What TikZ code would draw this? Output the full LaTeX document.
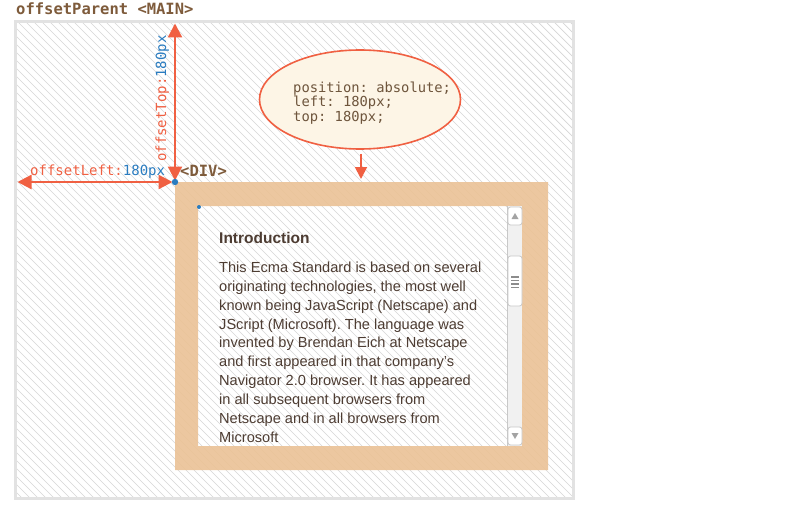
\documentclass[tikz,border=0pt]{standalone}
\usepackage{fontspec}
\setmainfont{Liberation Sans}
\setmonofont{DejaVu Sans Mono}
\usetikzlibrary{shapes.geometric,arrows.meta}
\definecolor{arrowred}{RGB}{240,96,66}
\definecolor{labelblue}{RGB}{42,124,192}
\definecolor{titlebrown}{RGB}{126,91,59}
\definecolor{notetext}{RGB}{110,85,60}
\definecolor{divorange}{RGB}{235,194,150}
\definecolor{hatchgray}{RGB}{214,214,214}
\definecolor{bordergray}{RGB}{226,226,226}
\definecolor{textbrown}{RGB}{77,60,50}
\definecolor{notefill}{RGB}{253,245,230}
\definecolor{scrolltrack}{RGB}{241,241,241}
\definecolor{scrollline}{RGB}{200,200,200}
\definecolor{scrollgrip}{RGB}{140,140,140}
\tikzset{
  monolabel/.style={font=\ttfamily\fontsize{14}{16}\selectfont, inner sep=0pt},
  boldlabel/.style={font=\ttfamily\bfseries\fontsize{15.5}{18}\selectfont, text=titlebrown, inner sep=0pt},
  measurearrow/.style={draw=arrowred, line width=2.3pt, {Triangle[length=14pt,width=14pt]}-{Triangle[length=14pt,width=14pt]}},
  pointarrow/.style={draw=arrowred, line width=1.8pt, -{Triangle[length=12pt,width=12pt]}},
  scrollbutton/.style={draw=scrollline, fill=white, line width=0.8pt, rounded corners=2.5pt},
}
\begin{document}
\frenchspacing
\begin{tikzpicture}[x=1pt,y=-1pt]
\useasboundingbox (0,0) rectangle (793,511);
\fill[white] (0,0) rectangle (793,511);
% hatched background of MAIN
\begin{scope}
  \clip (15.5,21.5) rectangle (573.5,498.5);
  \foreach \i in {-490,-482,...,580} \draw[hatchgray, line width=0.7pt] (\i,18) -- ++(484,484);
\end{scope}
\draw[bordergray, line width=3pt] (15.5,21.5) rectangle (573.5,498.5);
% DIV border (semi-transparent)
\fill[divorange, opacity=0.9, even odd rule] (175,182) rectangle (548,470) (198,206) rectangle (522,446);
% scrollbar
\fill[scrolltrack] (507,206) rectangle (522,446);
\draw[scrollline, line width=0.6pt] (507.3,206) -- (507.3,446);
\draw[scrollbutton] (508,207) rectangle (522,225);
\fill[scrollgrip!80] (511.5,219) -- (518.5,219) -- (515,213) -- cycle;
\draw[scrollbutton] (508,256) rectangle (522,306);
\foreach \yy in {277,280.5,284,287.5} \draw[scrollgrip, line width=1.3pt] (511,\yy) -- (519,\yy);
\draw[scrollbutton] (508,427) rectangle (522,445);
\fill[scrollgrip!80] (511.5,433) -- (518.5,433) -- (515,439) -- cycle;
% note ellipse
\node[ellipse, draw=arrowred, line width=1.6pt, fill=notefill, minimum width=201pt, minimum height=99pt, inner sep=0pt] (note) at (360,99.5) {};
\node[font=\ttfamily\fontsize{13.8}{14.6}\selectfont, text=notetext, align=left, anchor=west, inner sep=0pt] (notetxt) at (293,103) {position: absolute;\\left: 180px;\\top: 180px;};
% coordinates
\coordinate (divcorner) at (175,182);
\coordinate (maintop) at (175,23.5);
\coordinate (mainleft) at (17.5,182);
\coordinate (divtopmid) at (361,179);
% arrows
\draw[measurearrow, shorten <=1.5pt] (divcorner) -- (maintop);
\draw[measurearrow, shorten <=2.5pt] (divcorner) -- (mainleft);
\draw[pointarrow] ([shift={(1,4)}]note.south) -- (divtopmid);
% dots
\fill[labelblue] (divcorner) circle (3.2pt);
\fill[labelblue] (199,207) circle (2pt);
% labels
\node[boldlabel, anchor=base west] (title) at (16,15) {offsetParent <MAIN>};
\node[boldlabel, anchor=base west] (divlbl) at (180,176) {<DIV>};
\node[monolabel, anchor=base west] (leftlbl) at (30,175) {\textcolor{arrowred}{offsetLeft:}\textcolor{labelblue}{180px}};
\node[monolabel, anchor=base west, rotate=90] (toplbl) at (166,162) {\textcolor{arrowred}{offsetTop:}\textcolor{labelblue}{180px}};
% content
\node[font=\bfseries\fontsize{15.5}{18}\selectfont, text=textbrown, anchor=base west, inner sep=0pt] (intro) at (219,243) {Introduction};
\node[font=\fontsize{14.6}{18.9}\selectfont, text=textbrown, align=left, anchor=north west, inner sep=0pt] (para) at (219,261.6) {This Ecma Standard is based on several\\originating technologies, the most well\\known being JavaScript (Netscape) and\\JScript (Microsoft). The language was\\invented by Brendan Eich at Netscape\\and first appeared in that company’s\\Navigator 2.0 browser. It has appeared\\in all subsequent browsers from\\Netscape and in all browsers from\\Microsoft};
\end{tikzpicture}
\end{document}
